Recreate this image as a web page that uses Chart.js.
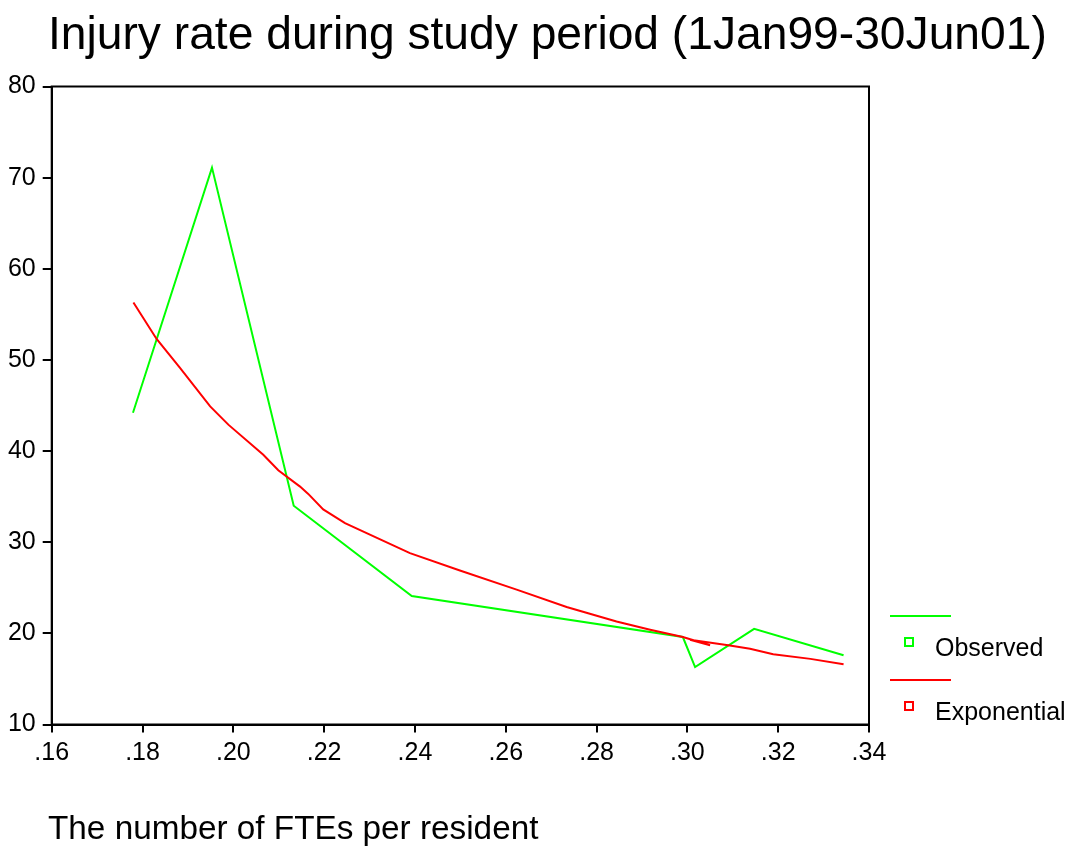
<!DOCTYPE html>
<html>
<head>
<meta charset="utf-8">
<script src="https://cdn.jsdelivr.net/npm/chart.js@4"></script>
<style>
    body { margin: 0; background: #fff; }
    #wrap { position: relative; width: 1071px; height: 846px; font-family: "Liberation Sans", Arial, sans-serif; color: #000; }
    #chart { position: absolute; left: 0; top: 0; }
    .txt { position: absolute; white-space: nowrap; }
    .legline { position: absolute; height: 2px; width: 61px; left: 890px; }
    .legbox { position: absolute; width: 10px; height: 10px; left: 904px; box-sizing: border-box; border: 2px solid; }
</style>
</head>
<body>
<div id="wrap">
    <canvas id="chart" width="1071" height="846"></canvas>
    <div class="txt" style="left:48px; top:10px; font-size:46.2px; line-height:46px;">Injury rate during study period (1Jan99-30Jun01)</div>
    <div class="txt" style="left:48px; top:811px; font-size:33.3px; line-height:33px;">The number of FTEs per resident</div>

    <div class="legline" style="top:615px; background:#00ff00;"></div>
    <div class="legbox" style="top:637px; border-color:#00ff00;"></div>
    <div class="txt" style="left:935px; top:635px; font-size:25px; line-height:24px;">Observed</div>
    <div class="legline" style="top:679px; background:#ff0000;"></div>
    <div class="legbox" style="top:701px; border-color:#ff0000;"></div>
    <div class="txt" style="left:935px; top:699px; font-size:25px; line-height:24px;">Exponential</div>
</div>
<script>
    // Observed injury rate
    const observedX = [0.1779, 0.1953, 0.2133, 0.2393, 0.2990, 0.3017, 0.3147, 0.3344];
    const observedY = [44.2, 71.1, 34.0, 24.1, 19.6, 16.3, 20.5, 17.6];

    // Exponential fit, in the order it was drawn (note the small hook near .30)
    const fitX = [0.1780, 0.1831, 0.1883, 0.1949, 0.1989, 0.2066, 0.2099, 0.2147, 0.2165, 0.2198,
                  0.2246, 0.2389, 0.2499, 0.2624, 0.2734, 0.2844, 0.2918, 0.2990, 0.3050, 0.3006,
                  0.3090, 0.3138, 0.3189, 0.3271, 0.3344];
    const fitY = [56.3, 52.3, 49.1, 44.9, 42.9, 39.6, 37.9, 36.1, 35.3, 33.6,
                  32.1, 28.8, 26.9, 24.8, 22.9, 21.3, 20.4, 19.6, 18.7, 19.3,
                  18.7, 18.3, 17.7, 17.2, 16.6];

    const toPoints = (xs, ys) => xs.map((x, i) => ({ x: x, y: ys[i] }));

    // frame round the plot area (top and right sides)
    const framePlugin = {
        id: 'frame',
        afterDraw(chart) {
            const a = chart.chartArea;
            const ctx = chart.ctx;
            ctx.save();
            ctx.strokeStyle = '#000';
            ctx.lineWidth = 2;
            ctx.strokeRect(a.left, a.top, a.right - a.left, a.bottom - a.top);
            ctx.restore();
        }
    };

    const tickFont = { family: '"Liberation Sans", Arial, sans-serif', size: 25 };

    new Chart(document.getElementById('chart'), {
        type: 'scatter',
        data: {
            datasets: [
                {
                    label: 'Exponential',
                    data: toPoints(fitX, fitY),
                    showLine: true,
                    borderColor: '#ff0000',
                    borderWidth: 2,
                    pointRadius: 0,
                    tension: 0
                },
                {
                    label: 'Observed',
                    data: toPoints(observedX, observedY),
                    showLine: true,
                    borderColor: '#00ff00',
                    borderWidth: 2,
                    pointRadius: 0,
                    tension: 0
                }
            ]
        },
        options: {
            responsive: false,
            animation: false,
            layout: { padding: { left: 0, top: 86.5, right: 202, bottom: 0 } },
            plugins: {
                legend: { display: false },
                tooltip: { enabled: false }
            },
            scales: {
                x: {
                    type: 'linear',
                    min: 0.16,
                    max: 0.34,
                    afterFit: (scale) => { scale.height = 121.5; },
                    border: { color: '#000', width: 2 },
                    grid: { drawOnChartArea: false, color: '#000', lineWidth: 2, tickLength: 8 },
                    ticks: {
                        stepSize: 0.02,
                        color: '#000',
                        font: tickFont,
                        padding: 6,
                        maxRotation: 0,
                        callback: (v) => v.toFixed(2).replace(/^0/, '')
                    }
                },
                y: {
                    min: 10,
                    max: 80,
                    afterFit: (scale) => { scale.width = 51.7; },
                    border: { color: '#000', width: 2 },
                    grid: { drawOnChartArea: false, color: '#000', lineWidth: 2, tickLength: 9 },
                    ticks: {
                        stepSize: 10,
                        color: '#000',
                        font: tickFont,
                        padding: 7
                    }
                }
            }
        },
        plugins: [framePlugin]
    });
</script>
</body>
</html>
